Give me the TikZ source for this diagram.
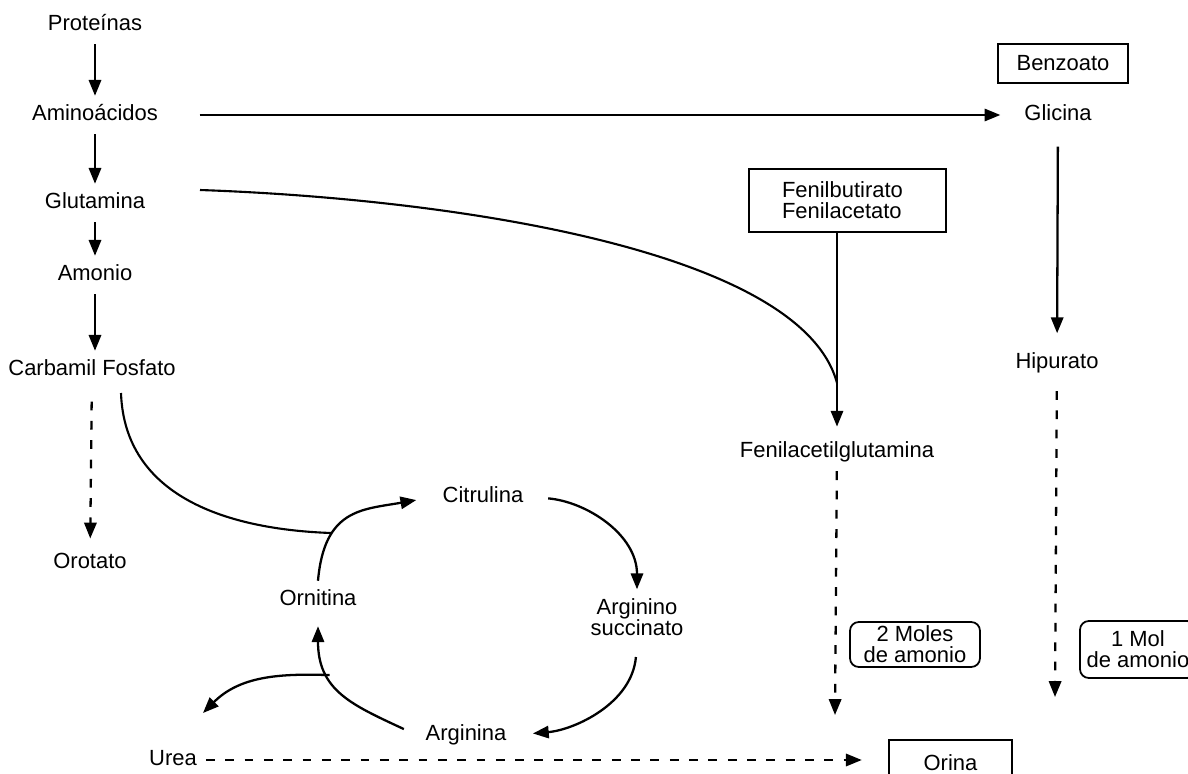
\documentclass[tikz,border=0pt]{standalone}
\usepackage{fontspec}
\setmainfont{Liberation Sans}
\usetikzlibrary{arrows.meta}
\newcommand{\metabfont}{\fontsize{12.5}{12}\selectfont}

\begin{document}
\begin{tikzpicture}[x=0.02cm,y=-0.02cm,
		metab/.style={font=\metabfont,inner sep=5pt,text height=9pt,text depth=2.5pt},
		twoline/.style={font=\metabfont,inner sep=5pt,align=center},
		drugbox/.style={draw,line width=1pt,font=\metabfont,inner sep=0pt,align=center},
		molbox/.style={drugbox,rounded corners=5pt},
		flow/.style={-{Triangle[length=9pt,width=7pt]},line width=1.3pt},
		excr/.style={flow,dash pattern=on 5pt off 6pt},
		joinline/.style={line width=1.2pt}]
	\useasboundingbox (0,0) rectangle (1188,774);

	\node[metab] at (95,25) (prot) {Proteínas};
	\node[metab] at (95,115) (amino) {Aminoácidos};
	\node[metab] at (95,203) (glut) {Glutamina};
	\node[metab] at (95,275) (amon) {Amonio};
	\node[metab] at (92,370) (carb) {Carbamil Fosfato};
	\node[metab] at (90,563) (orot) {Orotato};
	\node[drugbox,minimum width=2.6cm,minimum height=0.78cm] at (1063,63.5) (benz) {Benzoato};
	\node[metab] at (1058,115) (glic) {Glicina};
	\node[metab] at (1057,363) (hip) {Hipurato};
	\node[drugbox,align=left,text width=2.62cm,inner xsep=0.66cm,minimum height=1.26cm] at (847.5,200.5) (fenbox) {Fenilbutirato\\Fenilacetato};
	\node[metab] at (837,452) (fenac) {Fenilacetilglutamina};
	\node[metab] at (483,497) (citr) {Citrulina};
	\node[twoline] at (637,617) (argsuc) {Arginino\\succinato};
	\node[metab] at (466,735) (argin) {Arginina};
	\node[metab] at (318,600) (ornit) {Ornitina};
	\node[metab] at (173,760) (urea) {Urea};
	\node[drugbox,minimum width=2.46cm,minimum height=0.92cm] at (950.5,763) (orina) {Orina};
	\node[molbox,minimum width=2.6cm,minimum height=0.9cm] at (915,644.5) (moles2) {2 Moles\\de amonio};
	\node[molbox,minimum width=2.32cm,minimum height=1.14cm] at (1138,649.5) (mol1) {1 Mol\\de amonio};

	\coordinate (glutout) at (200,190);
	\coordinate (fenjoin) at (837,383);
	\coordinate (carbout) at (121,393);
	\coordinate (cycjoin) at (331,533);
	\coordinate (fenend) at (835,715);
	\coordinate (hipend) at (1055,697);
	\coordinate (ureaend) at (203,713);

	\path[flow]
		(prot) edge (amino)
		(amino) edge (glut)
		(glut) edge (amon)
		(amon.south) edge (amon.south |- carb.north)
		(amino.east) edge[shorten <=18.5pt,shorten >=8.5pt] (amino.east -| glic.west)
		(glic) edge[shorten <=7pt,shorten >=6pt] (hip)
		(fenbox.south -| fenac.north) edge[shorten >=3.5pt] (fenac.north)
		;
	\path[excr]
		(carb) edge[shorten <=7pt,shorten >=3pt] (orot)
		(hip) edge[shorten <=5pt] (hipend)
		(fenac) edge (fenend)
		(urea.east) edge[shorten >=15pt] (urea.east -| orina.west)
		;

	\draw[joinline] (glutout) to[out=-2,in=105,out looseness=0.96,in looseness=0.53] (fenjoin);
	\draw[joinline] (carbout) to[out=-88,in=178,looseness=1.05] (cycjoin);

	\draw[flow,shorten >=10pt] (ornit.north) to[out=85,in=190,looseness=1.3] (citr.west);
	\draw[flow,shorten <=9pt] (citr.east) to[out=-5,in=90] (argsuc.north);
	\draw[flow,shorten <=7pt,shorten >=10pt] (argsuc.south) to[out=-95,in=5] (argin.east);
	\draw[flow,shorten <=8pt,shorten >=4pt] (argin.west) to[out=155,in=-90,looseness=1.2] coordinate[pos=0.66] (ureabr) (ornit.south);
	\draw[flow] (ureabr) to[out=178,in=45] (ureaend);
\end{tikzpicture}
\end{document}
